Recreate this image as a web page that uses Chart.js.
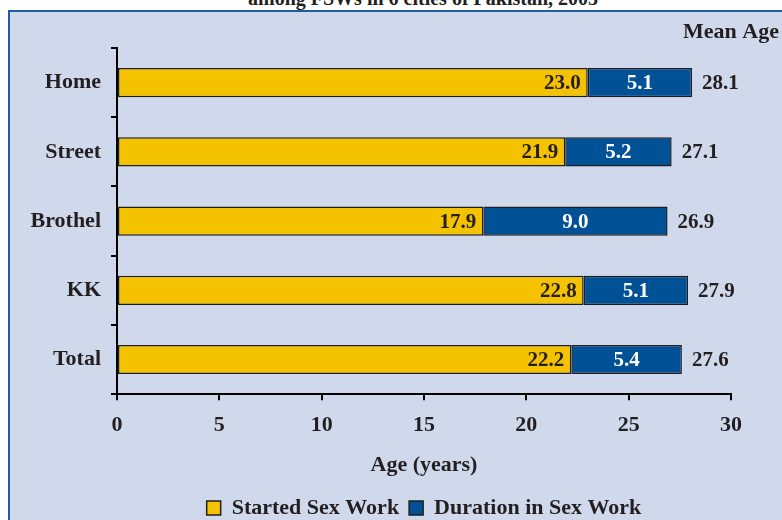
<!DOCTYPE html>
<html>
<head>
<meta charset="utf-8">
<script src="https://cdn.jsdelivr.net/npm/chart.js@4"></script>
<style>
    html, body { margin: 0; padding: 0; background: #ffffff; overflow: hidden; }
    body { width: 782px; height: 520px; position: relative; }
    .titulo {
        position: absolute; left: 0; width: 846px; top: -12px;
        text-align: center; font: bold 20px 'Liberation Serif', serif; line-height: 20px; color: #231f20;
    }
    .painel {
        position: absolute; left: 8px; top: 10px; width: 780px; height: 520px;
        background: #d0d9ec; border-left: 2px solid #1f5ba7; border-top: 2px solid #1f5ba7;
    }
    #grafico { position: absolute; left: 0; top: 0; }
</style>
</head>
<body>
<div class="titulo">among FSWs in 6 cities of Pakistan, 2005</div>
<div class="painel"></div>
<canvas id="grafico" width="782" height="529"></canvas>

<script>
const categorias = ['Home', 'Street', 'Brothel', 'KK', 'Total'];
const inicioTrabalho = [23.0, 21.9, 17.9, 22.8, 22.2];
const duracaoTrabalho = [5.1, 5.2, 9.0, 5.1, 5.4];
const idadeMedia = [28.1, 27.1, 26.9, 27.9, 27.6];
const ticksX = [0, 5, 10, 15, 20, 25, 30];

const fonte = "'Liberation Serif', serif";
const corTexto = '#231f20';

Chart.defaults.font.family = fonte;
Chart.defaults.font.weight = 'bold';
Chart.defaults.font.size = 22;
Chart.defaults.color = corTexto;

// rotulos dos valores e o "Mean Age" no topo
const rotulosPlugin = {
    id: 'rotulos',
    afterDatasetsDraw(chart) {
        const ctx = chart.ctx;
        const escalaX = chart.scales.x;
        ctx.save();
        ctx.font = 'bold 21px ' + fonte;
        ctx.textBaseline = 'middle';

        chart.getDatasetMeta(0).data.forEach((bar, i) => {
            ctx.fillStyle = corTexto;
            ctx.textAlign = 'right';
            ctx.fillText(inicioTrabalho[i].toFixed(1), bar.x - 7, bar.y + 1);
        });

        chart.getDatasetMeta(1).data.forEach((bar, i) => {
            ctx.fillStyle = '#ffffff';
            ctx.textAlign = 'center';
            ctx.fillText(duracaoTrabalho[i].toFixed(1), (bar.x + bar.base) / 2, bar.y + 1);

            ctx.fillStyle = corTexto;
            ctx.textAlign = 'left';
            ctx.fillText(idadeMedia[i].toFixed(1), escalaX.getPixelForValue(idadeMedia[i]) + 10, bar.y + 1);
        });

        ctx.font = 'bold 22px ' + fonte;
        ctx.textAlign = 'left';
        ctx.textBaseline = 'alphabetic';
        ctx.fillText('Mean Age', 683, 38);
        ctx.restore();
    }
};

new Chart(document.getElementById('grafico'), {
    type: 'bar',
    data: {
        labels: categorias,
        datasets: [
            {
                label: 'Started Sex Work',
                data: inicioTrabalho,
                backgroundColor: '#f5c200',
                borderColor: '#1e1e1e',
                borderWidth: 1.5,
                borderSkipped: false,
                barPercentage: 0.42,
                categoryPercentage: 1
            },
            {
                label: 'Duration in Sex Work',
                data: duracaoTrabalho,
                backgroundColor: '#005195',
                borderColor: '#1e1e1e',
                borderWidth: 1.5,
                borderSkipped: false,
                barPercentage: 0.42,
                categoryPercentage: 1
            }
        ]
    },
    options: {
        indexAxis: 'y',
        responsive: false,
        animation: false,
        layout: { padding: { left: 0, right: 51, top: 48, bottom: 0 } },
        plugins: {
            tooltip: { enabled: false },
            legend: {
                position: 'bottom',
                fullSize: false,
                labels: {
                    boxWidth: 14,
                    boxHeight: 14,
                    padding: 10,
                    color: corTexto,
                    font: { size: 22, weight: 'bold' },
                    generateLabels(chart) {
                        return chart.data.datasets.map((ds, i) => ({
                            text: ds.label,
                            fillStyle: ds.backgroundColor,
                            strokeStyle: '#1e1e1e',
                            lineWidth: 1.5,
                            fontColor: corTexto,
                            datasetIndex: i
                        }));
                    }
                }
            }
        },
        scales: {
            x: {
                stacked: true,
                min: 0,
                max: 30,
                afterBuildTicks(scale) {
                    scale.ticks = ticksX.map(v => ({ value: v }));
                },
                grid: { drawOnChartArea: false, drawTicks: true, tickLength: 6, color: '#000', lineWidth: 2 },
                border: { color: '#000', width: 2 },
                ticks: { padding: 12, color: corTexto, font: { size: 22, weight: 'bold' } },
                title: {
                    display: true,
                    text: 'Age (years)',
                    color: corTexto,
                    font: { size: 22, weight: 'bold' },
                    padding: { top: 2, bottom: 8 }
                }
            },
            y: {
                stacked: true,
                afterFit(scale) { scale.width = 117; },
                grid: { drawOnChartArea: false, drawTicks: true, tickLength: 6, color: '#000', lineWidth: 2, offset: true },
                border: { color: '#000', width: 2 },
                ticks: { padding: 10, color: corTexto, font: { size: 22, weight: 'bold' } }
            }
        }
    },
    plugins: [rotulosPlugin]
});
</script>
</body>
</html>
